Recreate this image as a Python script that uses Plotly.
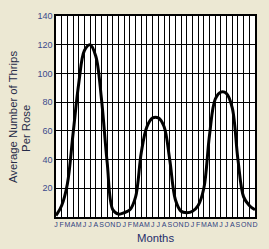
import plotly.graph_objects as go

month_letters = ["J", "F", "M", "A", "M", "J", "J", "A", "S", "O", "N", "D"]
tick_labels = month_letters * 3
month_index = list(range(36))
thrips = [1, 8, 23, 58, 93, 116, 120, 112, 82, 38, 5, 2,
          3, 5, 14, 45, 63, 69, 69, 63, 40, 12, 4, 3,
          4, 8, 20, 57, 82, 87, 86, 76, 40, 14, 8, 5]
y_ticks = [20, 40, 60, 80, 100, 120, 140]

fig = go.Figure()
fig.add_trace(go.Scatter(
    x=month_index, y=thrips, mode="lines",
    line=dict(color="black", width=3, shape="spline", smoothing=1.0),
    showlegend=False, hoverinfo="skip",
))

base = "Liberation Sans, Arial, sans-serif"
tick_font = dict(family=base, size=9, color="#3b4a8c")
title_font = dict(family=base, size=11.3, color="#262b48")
fig.update_layout(
    width=269, height=249,
    margin=dict(l=56, r=11, t=15, b=32),
    paper_bgcolor="#ECE8D3",
    plot_bgcolor="white",
    xaxis=dict(
        range=[0, 35], tickmode="array", tickvals=month_index, ticktext=tick_labels,
        showgrid=True, gridcolor="black", gridwidth=1,
        showline=True, linecolor="black", linewidth=1.5, mirror=True,
        ticks="", tickangle=0, zeroline=False,
        tickfont=dict(family=base, size=7, color="#2f3f80"),
        fixedrange=True,
    ),
    yaxis=dict(
        range=[0, 140], tickmode="array", tickvals=y_ticks,
        showgrid=True, gridcolor="black", gridwidth=1,
        showline=True, linecolor="black", linewidth=1.5, mirror=True,
        ticks="", zeroline=False, tickfont=tick_font, fixedrange=True,
    ),
    annotations=[
        dict(text="Months", xref="paper", yref="paper", x=0.4975, y=-0.106,
             xanchor="center", yanchor="middle", showarrow=False,
             font=dict(family=base, size=11.3, color="#1f2d6b")),
        dict(text="Average Number of Thrips", xref="paper", yref="paper",
             x=-0.216, y=0.4975, xanchor="center", yanchor="middle", showarrow=False,
             textangle=-90, font=title_font),
        dict(text="Per Rose", xref="paper", yref="paper",
             x=-0.151, y=0.443, xanchor="center", yanchor="middle", showarrow=False,
             textangle=-90, font=title_font),
    ],
)

fig.write_html("out.html")
